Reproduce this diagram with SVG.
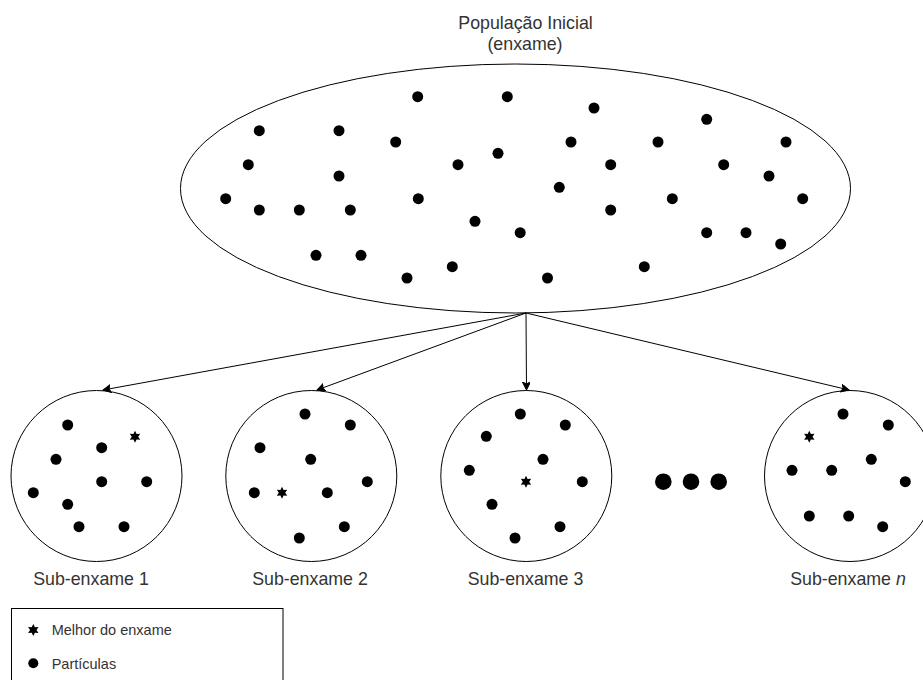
<svg xmlns="http://www.w3.org/2000/svg" width="923" height="680" viewBox="0 0 923 680">
<style>
text{font-family:"Liberation Sans",Arial,sans-serif;fill:#333333}
.lbl{font-size:17.8px;text-anchor:middle}
.leg{font-size:14.5px}
.shape{fill:#ffffff;stroke:#000000;stroke-width:1}
.conn{stroke:#000000;stroke-width:1;fill:none;marker-end:url(#arr)}
.d{fill:#000000}
</style>
<defs>
<marker id="arr" markerWidth="10" markerHeight="10" refX="8" refY="4" orient="auto" markerUnits="userSpaceOnUse">
<path d="M0,0 L8,4 L0,8 L2,4 Z" fill="#000000" stroke="#000000" stroke-width="1"/>
</marker>
<circle id="dot" r="5.5" class="d"/>
<polygon id="star" points="0,-6 1.6,-2.8 5.2,-3 3.2,0 5.2,3 1.6,2.8 0,6 -1.6,2.8 -5.2,3 -3.2,0 -5.2,-3 -1.6,-2.8" fill="#000000"/>
</defs>

<g id="population">
<ellipse class="shape" cx="515.5" cy="188.5" rx="335" ry="124.5"/>
<text class="lbl" x="525.5" y="29">População Inicial</text>
<text class="lbl" x="525" y="50">(enxame)</text>
<g>
<use href="#dot" x="417.7" y="96.7"/><use href="#dot" x="507.3" y="96.7"/><use href="#dot" x="594" y="108"/><use href="#dot" x="706.7" y="119.3"/>
<use href="#dot" x="259.3" y="130.7"/><use href="#dot" x="339" y="130.7"/><use href="#dot" x="395.7" y="142"/><use href="#dot" x="571" y="142"/>
<use href="#dot" x="658" y="142"/><use href="#dot" x="786" y="142"/><use href="#dot" x="248.3" y="164.7"/><use href="#dot" x="458" y="164.7"/>
<use href="#dot" x="498" y="153.3"/><use href="#dot" x="610.7" y="164.7"/><use href="#dot" x="723.7" y="164.7"/><use href="#dot" x="339" y="176"/>
<use href="#dot" x="769" y="176"/><use href="#dot" x="559.3" y="187.3"/><use href="#dot" x="225.7" y="198.7"/><use href="#dot" x="418.3" y="198.7"/>
<use href="#dot" x="672.3" y="198.7"/><use href="#dot" x="802.7" y="198.7"/><use href="#dot" x="259.3" y="210"/><use href="#dot" x="299.3" y="210"/>
<use href="#dot" x="350.3" y="210"/><use href="#dot" x="610.7" y="210"/><use href="#dot" x="475" y="221.3"/><use href="#dot" x="520.2" y="232.7"/>
<use href="#dot" x="706.7" y="232.7"/><use href="#dot" x="746" y="232.7"/><use href="#dot" x="780.7" y="244"/><use href="#dot" x="316" y="255.3"/>
<use href="#dot" x="361" y="255.3"/><use href="#dot" x="452.3" y="266.7"/><use href="#dot" x="644.3" y="266.7"/><use href="#dot" x="407" y="278"/>
<use href="#dot" x="547.5" y="278"/>
</g>
</g>

<g id="sub1">
<circle class="shape" cx="96.5" cy="476" r="85.5"/>
<use href="#dot" x="67.7" y="425"/><use href="#dot" x="101.7" y="447.7"/><use href="#dot" x="56" y="459.3"/><use href="#dot" x="101.7" y="481.7"/>
<use href="#dot" x="146.7" y="481.7"/><use href="#dot" x="33.3" y="492.7"/><use href="#dot" x="67.7" y="504.3"/><use href="#dot" x="79" y="526.7"/>
<use href="#dot" x="124" y="526.7"/>
<use href="#star" x="135" y="436.7"/>
<text class="lbl" x="91" y="585">Sub-enxame 1</text>
</g>

<g id="sub2">
<circle class="shape" cx="311.3" cy="476" r="85.5"/>
<use href="#dot" x="305" y="414"/><use href="#dot" x="350.3" y="425"/><use href="#dot" x="260" y="447.7"/><use href="#dot" x="310.7" y="459.3"/>
<use href="#dot" x="367.3" y="481.7"/><use href="#dot" x="254.3" y="492.7"/><use href="#dot" x="327.3" y="492.7"/><use href="#dot" x="344.3" y="526.7"/>
<use href="#dot" x="299.3" y="538"/>
<use href="#star" x="282" y="492.7"/>
<text class="lbl" x="310" y="585">Sub-enxame 2</text>
</g>

<g id="sub3">
<circle class="shape" cx="526.3" cy="476" r="85.5"/>
<use href="#dot" x="520.3" y="414"/><use href="#dot" x="565.3" y="425"/><use href="#dot" x="486.3" y="436.3"/><use href="#dot" x="543" y="459.3"/>
<use href="#dot" x="469.3" y="470.3"/><use href="#dot" x="582.3" y="481.7"/><use href="#dot" x="492" y="504.3"/><use href="#dot" x="560" y="526.7"/>
<use href="#dot" x="515" y="538"/>
<use href="#star" x="526" y="481.7"/>
<text class="lbl" x="525.5" y="585">Sub-enxame 3</text>
</g>

<g id="ellipsis">
<circle cx="663.3" cy="481.7" r="8.3" class="d"/>
<circle cx="691" cy="481.7" r="8.3" class="d"/>
<circle cx="718.7" cy="481.7" r="8.3" class="d"/>
</g>

<g id="subn">
<circle class="shape" cx="850" cy="476" r="85.5"/>
<use href="#dot" x="843" y="414"/><use href="#dot" x="888.3" y="425"/><use href="#dot" x="871.3" y="459.3"/><use href="#dot" x="792" y="470.3"/>
<use href="#dot" x="831.7" y="470.3"/><use href="#dot" x="905.3" y="481.7"/><use href="#dot" x="809.3" y="516"/><use href="#dot" x="848.7" y="516"/>
<use href="#dot" x="882.7" y="526.7"/>
<use href="#star" x="809.3" y="436.7"/>
<text class="lbl" x="848" y="585">Sub-enxame <tspan font-style="italic">n</tspan></text>
</g>

<g id="connectors">
<line class="conn" x1="526" y1="313" x2="103" y2="390"/>
<line class="conn" x1="526" y1="313" x2="317" y2="390"/>
<line class="conn" x1="526" y1="313" x2="526.5" y2="390"/>
<line class="conn" x1="526" y1="313" x2="849" y2="390"/>
</g>

<g id="legend">
<rect class="shape" x="11.5" y="608.5" width="271.5" height="90"/>
<use href="#star" x="33.3" y="630"/>
<text class="leg" x="51.7" y="635">Melhor do enxame</text>
<circle cx="33.3" cy="663.3" r="5" class="d"/>
<text class="leg" x="51.7" y="668.5">Partículas</text>
</g>
</svg>
